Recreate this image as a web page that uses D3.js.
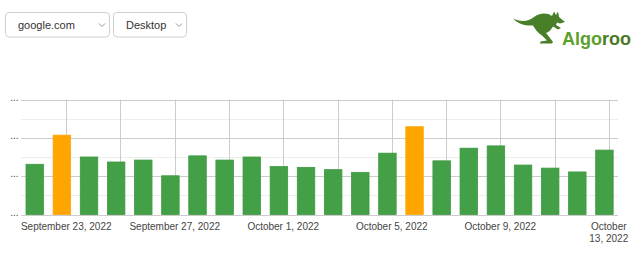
<!DOCTYPE html>
<html>
<head>
<meta charset="utf-8">
<script src="https://cdn.jsdelivr.net/npm/d3@7"></script>
<style>
  html, body { margin: 0; padding: 0; background: #fff; }
  svg { display: block; font-family: Arial, "Liberation Sans", sans-serif; }
</style>
</head>
<body>
<svg id="chart" width="640" height="254"></svg>
<script>
// ---- data ----
const dates = ["2022-09-22","2022-09-23","2022-09-24","2022-09-25","2022-09-26","2022-09-27","2022-09-28",
  "2022-09-29","2022-09-30","2022-10-01","2022-10-02","2022-10-03","2022-10-04","2022-10-05","2022-10-06",
  "2022-10-07","2022-10-08","2022-10-09","2022-10-10","2022-10-11","2022-10-12","2022-10-13"];
const values = [1.31, 2.07, 1.50, 1.37, 1.42, 1.01, 1.53, 1.42, 1.50, 1.25, 1.23, 1.17, 1.10, 1.60,
  2.29, 1.40, 1.73, 1.79, 1.29, 1.21, 1.11, 1.68];
const flagged = [false, true, false, false, false, false, false, false, false, false, false, false, false, false,
  true, false, false, false, false, false, false, false];
const gridDates = ["2022-09-23","2022-09-25","2022-09-27","2022-09-29","2022-10-01","2022-10-03",
  "2022-10-05","2022-10-07","2022-10-09","2022-10-11","2022-10-13"];
const labelDates = ["2022-09-23","2022-09-27","2022-10-01","2022-10-05","2022-10-09","2022-10-13"];
const xTickLabels = ["September 23, 2022","September 27, 2022","October 1, 2022","October 5, 2022",
  "October 9, 2022","October 13, 2022"];
const yTicks = [0, 1, 2, 3];
const yMinorTicks = [0.5, 1.5, 2.5];
const yTickLabels = ["...", "...", "...", "..."];
const siteOptions = ["google.com"];
const deviceOptions = ["Desktop"];

// ---- layout ----
const svg = d3.select("#chart");
const plot = { left: 21.2, right: 618, top: 99.5, bottom: 214.5 };
const DAY = 864e5;
const parse = s => new Date(s + "T00:00:00Z");

const x = d3.scaleUtc()
  .domain([new Date(parse(dates[0]).getTime() - DAY / 2), new Date(parse(dates[dates.length - 1]).getTime() + DAY / 2)])
  .range([plot.left, plot.right]);
const y = d3.scaleLinear().domain([0, 3]).range([plot.bottom, plot.top]);
const gridOffset = 0.16 * DAY;
const stepPx = x(parse(dates[1])) - x(parse(dates[0]));
const barW = stepPx * 0.645;

// minor gridlines
svg.append("g").selectAll("line").data(yMinorTicks).join("line")
  .attr("x1", plot.left).attr("x2", plot.right)
  .attr("y1", d => Math.round(y(d)) + 0.5).attr("y2", d => Math.round(y(d)) + 0.5)
  .attr("stroke", "#ededed");
// vertical gridlines
svg.append("g").selectAll("line").data(gridDates).join("line")
  .attr("x1", d => Math.round(x(new Date(parse(d).getTime() + gridOffset))) + 0.5)
  .attr("x2", d => Math.round(x(new Date(parse(d).getTime() + gridOffset))) + 0.5)
  .attr("y1", plot.top).attr("y2", plot.bottom)
  .attr("stroke", "#cccccc");
// major gridlines
svg.append("g").selectAll("line").data(yTicks).join("line")
  .attr("x1", plot.left).attr("x2", plot.right)
  .attr("y1", d => Math.round(y(d)) + 0.5).attr("y2", d => Math.round(y(d)) + 0.5)
  .attr("stroke", "#cccccc");

// y labels
svg.append("g").selectAll("text").data(yTicks).join("text")
  .attr("x", 18.5).attr("y", d => y(d) + 1)
  .attr("text-anchor", "end").attr("font-size", 10).attr("fill", "#444")
  .text((d, i) => yTickLabels[i]);

// bars
svg.append("g").selectAll("rect").data(values).join("rect")
  .attr("x", (d, i) => x(parse(dates[i])) - barW / 2)
  .attr("width", barW)
  .attr("y", d => y(d))
  .attr("height", d => y(0) - y(d))
  .attr("fill", (d, i) => flagged[i] ? "#ffa500" : "#43a047")
  .attr("stroke", (d, i) => flagged[i] ? "#ffa500" : "#3d9a41")
  .attr("stroke-width", 0.8);

// x labels
const xl = svg.append("g").attr("font-size", 10).attr("fill", "#444").attr("text-anchor", "middle");
labelDates.forEach((d, i) => {
  const cx = x(new Date(parse(d).getTime() + gridOffset));
  const label = xTickLabels[i];
  const t = xl.append("text").attr("x", cx).attr("y", 229.5);
  const w = label.length * 5.1;
  if (cx + w / 2 > 640) {
    const k = label.indexOf(" ");
    t.append("tspan").attr("x", cx).text(label.slice(0, k));
    t.append("tspan").attr("x", cx).attr("dy", 12.5).text(label.slice(k + 1));
  } else {
    t.text(label);
  }
});

// dropdowns
function dropdown(x0, w, label) {
  const g = svg.append("g");
  g.append("rect").attr("x", x0 + 0.5).attr("y", 12.5).attr("width", w).attr("height", 24.5)
    .attr("rx", 3.5).attr("fill", "#fff").attr("stroke", "#d0d0d0");
  g.append("text").attr("x", x0 + 13).attr("y", 29).attr("font-size", 11).attr("fill", "#333").text(label);
  const cx = x0 + w - 7;
  g.append("path").attr("d", `M${cx - 3},23.5 L${cx},26.5 L${cx + 3},23.5`)
    .attr("fill", "none").attr("stroke", "#888").attr("stroke-width", 0.9);
}
dropdown(5, 104, siteOptions[0]);
dropdown(113, 73, deviceOptions[0]);

// logo
const logo = svg.append("g");
logo.append("path")
  .attr("d", "M513,18.5 C520,22 528,22 534,17 C539,13 547,12 552,16 L554,11.5 L556,15 L558,11.5 L559,17 L565,22 L560,23.5 L557,22.5 L556,25 L561,28 L558,29.5 L553,26.5 C551,30 549,32 546,33 L550,38 L553,42 L552,43.5 L540,43.5 L540.5,41.5 L547,40.5 L542,35.5 C538,33 535,29 533,25.5 C526,26 518,24 513,18.5 Z")
  .attr("fill", "#4a7f2a");
const lt = logo.append("text").attr("x", 562).attr("y", 45).attr("font-size", 18).attr("font-weight", "bold");
lt.append("tspan").attr("fill", "#5aa02c").text("Algo");
lt.append("tspan").attr("fill", "#4a7a26").text("roo");
</script>
</body>
</html>
